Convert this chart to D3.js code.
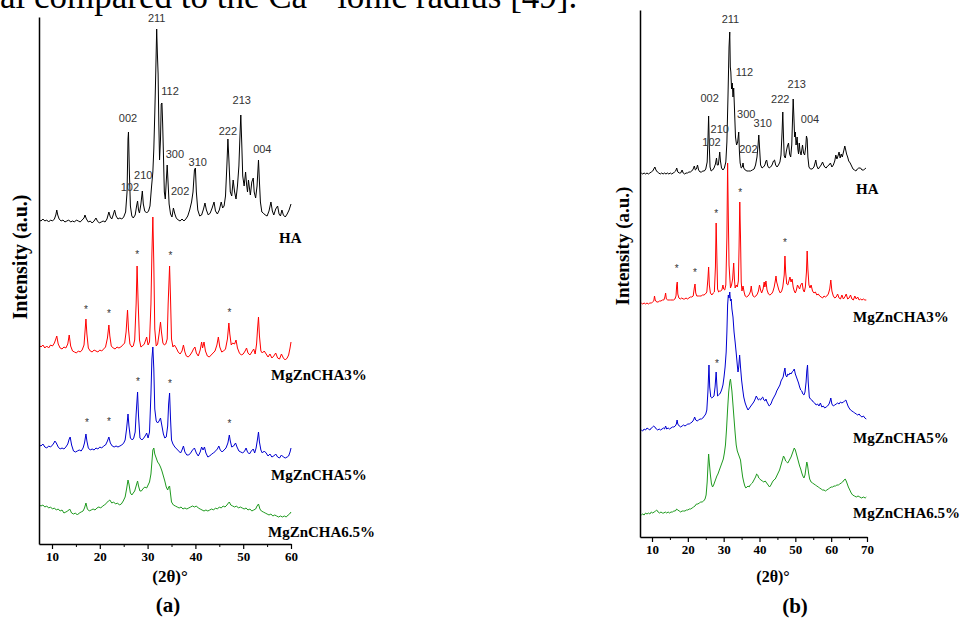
<!DOCTYPE html>
<html><head><meta charset="utf-8">
<script src="https://cdn.jsdelivr.net/npm/d3@7"></script>
<style>html,body{margin:0;padding:0;background:#fff;}svg{display:block;}</style>
</head><body><svg id="c" width="962" height="618"></svg>
<script>
// ---------- DATA (2θ in degrees, intensity in a.u., stacked) ----------
const seriesNames = ["HA", "MgZnCHA3%", "MgZnCHA5%", "MgZnCHA6.5%"];
const xTicksA = [10, 20, 30, 40, 50, 60];
const xMinorA = [15, 25, 35, 45, 55];
const xTicksB = [10, 20, 30, 40, 50, 60, 70];
const xMinorB = [15, 25, 35, 45, 55, 65];

const haA = [[7.3,324],[7.7,323],[8.1,325],[8.5,323],[8.9,324],[9.3,322],[9.7,324],[10.1,323],[10.5,325],[10.8,329],[11.0,334],[11.2,329],[11.5,325],[11.9,323],[12.3,324],[12.7,322],[13.1,323],[13.5,324],[13.9,322],[14.3,323],[14.7,322],[15.1,324],[15.5,323],[15.9,322],[16.3,324],[16.7,326],[16.9,329],[17.2,325],[17.6,322],[18.0,323],[18.4,321],[18.8,323],[19.2,326],[19.5,323],[19.9,321],[20.3,322],[20.7,323],[21.1,322],[21.5,325],[21.9,332],[22.2,327],[22.5,325],[22.8,329],[23.1,334],[23.4,328],[23.8,325],[24.2,326],[24.6,325],[25.0,327],[25.4,332],[25.7,352],[25.9,405],[26.0,412],[26.2,370],[26.4,338],[26.7,328],[27.0,326],[27.4,329],[27.7,338],[27.9,343],[28.1,334],[28.3,331],[28.6,340],[28.9,353],[29.1,340],[29.4,333],[29.8,331],[30.2,333],[30.5,338],[30.8,356],[31.1,372],[31.3,395],[31.5,430],[31.7,470],[31.9,515],[32.05,490],[32.2,470],[32.35,420],[32.5,384],[32.7,405],[32.85,440],[33.0,441],[33.15,420],[33.3,392],[33.5,352],[33.7,345],[33.9,362],[34.1,379],[34.3,360],[34.5,340],[34.8,330],[35.1,327],[35.4,336],[35.7,330],[36.0,326],[36.4,324],[36.8,323],[37.2,325],[37.6,323],[38.0,325],[38.4,328],[38.8,334],[39.2,342],[39.5,352],[39.8,374],[40.0,376],[40.2,352],[40.5,334],[40.9,328],[41.3,329],[41.7,335],[42.0,341],[42.3,334],[42.7,329],[43.1,331],[43.5,336],[43.9,342],[44.2,333],[44.6,330],[45.0,334],[45.4,342],[45.7,336],[46.0,338],[46.3,348],[46.6,380],[46.8,405],[47.0,385],[47.3,352],[47.6,348],[47.9,364],[48.2,352],[48.5,345],[48.8,358],[49.1,378],[49.3,405],[49.5,429],[49.7,400],[49.9,368],[50.2,358],[50.5,372],[50.7,360],[50.9,352],[51.1,364],[51.3,356],[51.5,349],[51.8,362],[52.1,366],[52.3,352],[52.6,346],[52.9,358],[53.2,384],[53.4,362],[53.6,342],[53.9,332],[54.2,331],[54.6,329],[55.0,328],[55.4,333],[55.8,342],[56.1,333],[56.4,329],[56.8,335],[57.2,338],[57.5,330],[57.8,328],[58.1,334],[58.4,329],[58.8,327],[59.2,330],[59.6,334],[60.0,340]];

const mg3A = [[7.3,199],[7.7,197],[8.1,199],[8.5,196],[8.9,198],[9.3,196],[9.7,199],[10.1,198],[10.5,201],[10.8,205],[11.0,208],[11.3,200],[11.7,196],[12.1,195],[12.5,197],[12.9,196],[13.3,200],[13.6,209],[13.9,198],[14.3,193],[14.7,192],[15.1,191],[15.5,193],[15.9,192],[16.3,194],[16.7,199],[16.9,212],[17.1,225],[17.3,210],[17.6,196],[18.0,193],[18.4,192],[18.8,194],[19.2,193],[19.6,192],[20.0,194],[20.4,193],[20.8,195],[21.2,197],[21.6,206],[21.9,219],[22.1,208],[22.4,198],[22.8,196],[23.2,195],[23.6,197],[24.0,196],[24.4,197],[24.8,199],[25.2,201],[25.5,212],[25.8,234],[26.0,215],[26.3,200],[26.7,197],[27.0,198],[27.3,204],[27.6,240],[27.8,278],[28.0,245],[28.3,204],[28.6,197],[28.9,198],[29.3,200],[29.6,204],[29.8,207],[30.1,199],[30.4,202],[30.7,240],[30.9,290],[31.1,327],[31.3,280],[31.5,215],[31.8,198],[32.1,200],[32.4,210],[32.7,222],[32.9,212],[33.2,201],[33.5,199],[33.8,200],[34.1,205],[34.3,240],[34.6,278],[34.8,245],[35.0,205],[35.3,197],[35.6,199],[36.0,196],[36.4,192],[36.8,190],[37.2,193],[37.5,199],[37.8,192],[38.1,188],[38.5,187],[38.9,189],[39.3,192],[39.6,195],[39.9,197],[40.2,191],[40.6,188],[41.0,194],[41.3,202],[41.5,196],[41.8,202],[42.1,193],[42.5,188],[42.9,187],[43.3,189],[43.7,191],[44.1,193],[44.5,199],[44.8,207],[45.1,197],[45.5,192],[45.9,193],[46.3,195],[46.7,205],[47.0,221],[47.2,210],[47.5,199],[47.8,201],[48.2,200],[48.5,204],[48.8,196],[49.2,191],[49.6,189],[50.0,190],[50.4,193],[50.7,196],[51.0,191],[51.4,189],[51.8,192],[52.2,195],[52.5,190],[52.8,200],[53.0,215],[53.2,227],[53.4,208],[53.7,193],[54.0,191],[54.4,193],[54.8,190],[55.2,187],[55.6,190],[56.0,186],[56.4,188],[56.8,191],[57.2,186],[57.6,185],[58.0,190],[58.4,186],[58.8,184],[59.2,186],[59.5,189],[59.8,196],[60.0,202]];

const mg5A = [[7.3,99],[7.7,98],[8.1,100],[8.5,97],[8.9,96],[9.3,98],[9.7,97],[10.1,99],[10.4,101],[10.6,103],[10.9,101],[11.3,97],[11.7,95],[12.1,96],[12.5,95],[12.9,97],[13.3,100],[13.6,105],[13.8,107],[14.1,99],[14.5,93],[14.9,92],[15.3,93],[15.7,94],[16.1,93],[16.5,96],[16.8,101],[17.1,110],[17.3,103],[17.6,96],[18.0,94],[18.4,95],[18.8,94],[19.2,96],[19.6,95],[20.0,97],[20.4,96],[20.8,98],[21.2,99],[21.6,103],[21.9,107],[22.2,101],[22.6,98],[23.0,97],[23.4,98],[23.8,97],[24.2,98],[24.6,99],[25.0,101],[25.3,104],[25.6,115],[25.9,130],[26.1,118],[26.4,106],[26.8,104],[27.1,106],[27.4,112],[27.6,130],[27.9,152],[28.1,128],[28.4,106],[28.8,104],[29.2,106],[29.6,109],[29.8,111],[30.1,106],[30.4,112],[30.7,150],[30.9,185],[31.1,197],[31.3,175],[31.5,135],[31.8,123],[32.1,121],[32.4,123],[32.7,126],[33.0,118],[33.3,110],[33.6,106],[33.9,107],[34.2,118],[34.4,140],[34.6,151],[34.8,125],[35.0,104],[35.3,100],[35.7,97],[36.1,95],[36.5,93],[36.9,91],[37.2,94],[37.5,98],[37.8,92],[38.2,89],[38.6,89],[39.0,91],[39.4,94],[39.8,96],[40.2,91],[40.6,88],[41.0,92],[41.3,97],[41.6,94],[41.9,97],[42.2,91],[42.6,87],[43.0,88],[43.4,90],[43.8,91],[44.2,93],[44.6,95],[44.9,98],[45.2,94],[45.6,92],[46.0,94],[46.4,96],[46.8,101],[47.1,109],[47.3,103],[47.6,97],[48.0,98],[48.4,101],[48.7,97],[49.1,93],[49.5,92],[49.9,91],[50.3,93],[50.6,96],[50.9,92],[51.3,90],[51.7,93],[52.1,95],[52.4,91],[52.7,96],[53.0,105],[53.2,112],[53.4,102],[53.7,94],[54.0,91],[54.4,93],[54.8,91],[55.2,88],[55.6,90],[56.0,87],[56.4,88],[56.8,90],[57.2,87],[57.6,86],[58.0,89],[58.4,87],[58.8,86],[59.2,87],[59.5,88],[59.8,92],[60.0,96]];

const mg65A = [[7.3,39],[7.7,38],[8.1,39],[8.5,37],[8.9,38],[9.3,36],[9.7,37],[10.1,35],[10.5,36],[10.9,34],[11.3,35],[11.7,33],[12.1,34],[12.5,31],[12.9,32],[13.3,33],[13.7,35],[14.1,31],[14.5,30],[14.9,31],[15.3,29],[15.7,31],[16.1,32],[16.5,33],[16.8,36],[17.1,41],[17.4,35],[17.8,33],[18.2,34],[18.6,35],[19.0,34],[19.4,36],[19.8,37],[20.2,36],[20.6,38],[21.0,39],[21.4,41],[21.8,43],[22.1,44],[22.5,41],[22.9,42],[23.3,40],[23.7,41],[24.1,39],[24.5,40],[24.9,43],[25.3,47],[25.6,55],[25.9,64],[26.1,60],[26.4,51],[26.7,49],[27.0,51],[27.3,53],[27.6,58],[27.9,63],[28.1,58],[28.4,53],[28.7,53],[29.0,55],[29.4,57],[29.8,56],[30.1,59],[30.4,62],[30.7,70],[30.9,82],[31.1,94],[31.3,96],[31.5,90],[31.8,86],[32.1,82],[32.4,80],[32.7,77],[33.0,73],[33.3,68],[33.6,63],[33.9,57],[34.2,54],[34.4,57],[34.6,58],[34.8,50],[35.0,42],[35.4,39],[35.8,38],[36.2,37],[36.6,36],[37.0,37],[37.4,35],[37.8,36],[38.2,35],[38.6,36],[39.0,37],[39.4,38],[39.8,37],[40.2,38],[40.6,36],[41.0,35],[41.4,34],[41.8,33],[42.2,34],[42.6,33],[43.0,34],[43.4,35],[43.8,34],[44.2,36],[44.6,35],[45.0,37],[45.4,36],[45.8,38],[46.2,37],[46.6,39],[46.9,41],[47.1,42],[47.4,39],[47.8,38],[48.2,37],[48.6,38],[49.0,36],[49.4,37],[49.8,36],[50.2,35],[50.6,36],[51.0,34],[51.4,35],[51.8,33],[52.2,34],[52.6,35],[52.9,38],[53.2,40],[53.5,35],[53.8,33],[54.2,32],[54.6,31],[55.0,30],[55.4,29],[55.8,30],[56.2,28],[56.6,29],[57.0,28],[57.4,27],[57.8,28],[58.2,27],[58.6,28],[59.0,27],[59.4,29],[59.7,30],[60.0,32]];

const haB = [[7.0,364],[7.4,363],[7.8,364],[8.2,363],[8.6,364],[9.0,363],[9.4,364],[9.8,365],[10.2,366],[10.5,368],[10.8,370],[11.1,367],[11.5,365],[11.9,364],[12.3,363],[12.7,364],[13.1,363],[13.5,364],[13.9,363],[14.3,364],[14.7,363],[15.1,364],[15.5,363],[15.9,364],[16.3,365],[16.6,366],[16.9,369],[17.2,365],[17.6,364],[18.0,364],[18.4,367],[18.7,364],[19.1,363],[19.5,364],[19.9,364],[20.3,365],[20.7,365],[21.1,366],[21.5,368],[21.8,371],[22.1,367],[22.4,368],[22.7,372],[23.0,367],[23.4,365],[23.8,365],[24.2,366],[24.6,366],[25.0,368],[25.4,375],[25.6,395],[25.8,421],[26.0,390],[26.2,370],[26.5,366],[26.9,367],[27.3,369],[27.7,373],[28.0,379],[28.2,372],[28.5,372],[28.7,378],[28.9,385],[29.1,376],[29.4,369],[29.8,367],[30.2,369],[30.6,375],[30.9,395],[31.2,440],[31.5,490],[31.7,505],[31.85,470],[32.0,465],[32.2,448],[32.4,454],[32.6,440],[32.8,449],[33.0,430],[33.3,400],[33.6,392],[33.9,395],[34.2,405],[34.4,385],[34.6,374],[34.9,369],[35.2,370],[35.4,374],[35.6,369],[36.0,367],[36.5,366],[37.0,366],[37.5,366],[38.0,367],[38.5,368],[38.9,372],[39.3,380],[39.6,392],[39.8,402],[40.0,390],[40.3,372],[40.7,369],[41.1,370],[41.5,372],[41.8,376],[42.0,377],[42.3,371],[42.7,369],[43.1,370],[43.5,372],[43.9,376],[44.2,377],[44.5,372],[44.9,370],[45.3,372],[45.7,375],[46.0,382],[46.3,405],[46.5,425],[46.7,400],[46.9,381],[47.2,379],[47.5,386],[47.8,391],[48.1,394],[48.4,383],[48.7,380],[49.0,392],[49.2,415],[49.4,438],[49.6,420],[49.8,400],[50.0,405],[50.2,392],[50.5,400],[50.7,388],[50.9,383],[51.1,394],[51.3,386],[51.6,382],[52.0,392],[52.3,384],[52.6,382],[52.9,390],[53.1,401],[53.3,398],[53.5,380],[53.8,370],[54.2,368],[54.7,368],[55.2,370],[55.5,374],[55.7,377],[56.0,371],[56.4,368],[56.8,370],[57.2,372],[57.6,375],[57.9,372],[58.2,370],[58.6,369],[59.0,371],[59.4,372],[59.8,374],[60.2,370],[60.6,372],[61.0,376],[61.3,382],[61.6,378],[61.9,381],[62.2,385],[62.5,379],[62.8,383],[63.1,380],[63.5,386],[63.8,391],[64.0,388],[64.3,383],[64.6,380],[64.9,376],[65.3,374],[65.7,371],[66.1,368],[66.5,367],[66.9,366],[67.3,368],[67.7,369],[68.2,369],[68.6,367],[69.0,367],[69.4,368],[69.7,369]];

const mg3B = [[7.0,234],[7.4,233],[7.8,234],[8.2,233],[8.6,234],[9.0,233],[9.4,234],[9.8,234],[10.2,235],[10.5,236],[10.7,241],[10.9,237],[11.3,235],[11.7,235],[12.1,236],[12.5,236],[12.9,237],[13.3,237],[13.6,240],[13.8,244],[14.0,238],[14.4,237],[14.8,237],[15.2,237],[15.6,237],[16.0,237],[16.4,238],[16.7,241],[16.9,252],[17.05,255],[17.2,243],[17.5,239],[17.9,238],[18.3,239],[18.7,238],[19.1,238],[19.5,239],[19.9,238],[20.3,239],[20.7,240],[21.1,240],[21.5,241],[21.8,249],[22.0,253],[22.2,244],[22.5,241],[22.9,241],[23.3,241],[23.7,241],[24.1,242],[24.5,242],[24.9,243],[25.3,245],[25.6,258],[25.8,270],[26.0,252],[26.3,244],[26.7,242],[27.1,244],[27.4,245],[27.7,270],[27.9,314],[28.1,280],[28.3,248],[28.6,245],[28.9,246],[29.2,246],[29.5,247],[29.8,252],[30.0,248],[30.3,247],[30.6,252],[30.9,300],[31.1,374],[31.3,320],[31.5,272],[31.7,260],[31.9,249],[32.2,252],[32.5,258],[32.8,274],[33.0,258],[33.2,249],[33.5,252],[33.8,250],[34.1,256],[34.3,290],[34.5,335],[34.7,300],[34.9,255],[35.1,246],[35.4,251],[35.7,245],[36.0,241],[36.4,240],[36.8,241],[37.2,243],[37.5,246],[37.7,251],[37.9,245],[38.2,241],[38.6,240],[39.0,241],[39.4,243],[39.7,246],[40.0,252],[40.3,247],[40.6,244],[41.0,248],[41.3,255],[41.5,250],[41.8,256],[42.1,247],[42.5,243],[42.9,242],[43.3,243],[43.7,245],[44.1,250],[44.4,256],[44.6,261],[44.8,255],[45.1,251],[45.4,247],[45.8,244],[46.2,246],[46.5,250],[46.9,262],[47.1,281],[47.3,265],[47.6,253],[47.9,252],[48.2,256],[48.5,260],[48.8,255],[49.1,258],[49.4,250],[49.7,246],[50.0,244],[50.3,247],[50.6,252],[50.9,250],[51.2,248],[51.5,252],[51.9,254],[52.2,247],[52.5,245],[52.8,250],[53.1,265],[53.3,286],[53.5,268],[53.8,252],[54.1,249],[54.4,252],[54.8,246],[55.2,244],[55.6,245],[56.0,242],[56.4,243],[56.8,241],[57.2,240],[57.6,239],[58.0,241],[58.4,240],[58.8,241],[59.2,243],[59.6,248],[59.9,257],[60.2,246],[60.6,241],[61.0,239],[61.4,240],[61.8,243],[62.2,239],[62.6,238],[63.0,242],[63.4,238],[63.8,240],[64.2,243],[64.6,238],[65.0,239],[65.4,242],[65.8,238],[66.2,237],[66.6,241],[67.0,238],[67.4,240],[67.8,237],[68.2,238],[68.6,237],[69.0,238],[69.4,237],[69.8,237]];

const mg5B = [[7.0,107],[7.4,106],[7.8,108],[8.2,107],[8.6,109],[9.0,108],[9.4,107],[9.8,109],[10.2,110],[10.5,111],[10.8,110],[11.2,108],[11.6,107],[12.0,108],[12.4,107],[12.8,108],[13.2,109],[13.5,108],[13.8,111],[14.1,108],[14.5,109],[14.9,108],[15.3,109],[15.7,110],[16.1,110],[16.5,111],[16.8,113],[17.0,117],[17.2,113],[17.6,111],[18.0,110],[18.4,111],[18.8,112],[19.2,111],[19.6,112],[20.0,113],[20.4,113],[20.8,114],[21.2,115],[21.6,117],[21.9,120],[22.2,117],[22.6,116],[23.0,117],[23.4,118],[23.8,118],[24.2,119],[24.6,121],[25.0,123],[25.3,127],[25.6,145],[25.9,172],[26.1,150],[26.4,140],[26.7,139],[27.0,140],[27.3,141],[27.6,150],[27.9,165],[28.1,152],[28.3,141],[28.6,142],[28.9,143],[29.2,145],[29.5,148],[29.8,152],[30.1,160],[30.4,170],[30.7,185],[30.9,205],[31.1,232],[31.3,242],[31.5,239],[31.7,245],[31.9,236],[32.1,238],[32.3,228],[32.6,220],[32.9,205],[33.2,195],[33.5,184],[33.8,172],[34.0,165],[34.2,170],[34.45,182],[34.7,170],[35.0,157],[35.3,148],[35.6,140],[36.0,134],[36.4,130],[36.8,127],[37.2,129],[37.6,131],[38.0,133],[38.4,135],[38.8,138],[39.1,141],[39.4,139],[39.7,137],[40.0,138],[40.3,137],[40.6,139],[40.9,140],[41.2,137],[41.5,136],[41.8,138],[42.1,135],[42.4,133],[42.7,131],[43.0,132],[43.3,134],[43.6,137],[43.9,139],[44.2,141],[44.5,143],[44.8,146],[45.1,148],[45.4,150],[45.7,152],[46.0,156],[46.3,158],[46.6,160],[46.8,164],[47.1,169],[47.3,162],[47.6,160],[47.9,163],[48.2,162],[48.5,164],[48.8,163],[49.1,165],[49.4,166],[49.7,168],[50.0,163],[50.3,160],[50.6,157],[50.9,154],[51.2,150],[51.5,147],[51.8,146],[52.1,143],[52.4,142],[52.7,145],[53.0,155],[53.2,166],[53.4,172],[53.6,155],[53.9,140],[54.2,138],[54.6,137],[55.0,135],[55.4,134],[55.8,132],[56.2,133],[56.6,131],[57.0,134],[57.4,130],[57.8,131],[58.2,129],[58.6,130],[59.0,131],[59.4,133],[59.7,136],[59.9,139],[60.2,133],[60.6,131],[61.0,132],[61.4,133],[61.8,134],[62.2,133],[62.6,135],[63.0,134],[63.4,135],[63.8,136],[64.1,137],[64.4,134],[64.7,131],[65.0,129],[65.4,127],[65.8,126],[66.2,125],[66.6,124],[67.0,123],[67.4,122],[67.8,123],[68.2,121],[68.6,120],[69.0,121],[69.4,119],[69.8,118]];

const mg65B = [[7.0,22],[7.4,23],[7.8,22],[8.2,24],[8.6,23],[9.0,24],[9.4,23],[9.8,25],[10.2,24],[10.6,25],[11.0,26],[11.3,27],[11.7,25],[12.1,24],[12.5,25],[12.9,24],[13.3,24],[13.7,25],[14.1,24],[14.5,25],[14.9,24],[15.3,25],[15.7,25],[16.1,26],[16.5,26],[16.9,28],[17.2,27],[17.6,26],[18.0,25],[18.4,26],[18.8,26],[19.2,26],[19.6,27],[20.0,27],[20.4,28],[20.8,28],[21.2,29],[21.6,30],[22.0,31],[22.4,33],[22.8,33],[23.2,34],[23.6,35],[24.0,35],[24.4,36],[24.8,38],[25.1,42],[25.4,55],[25.6,70],[25.8,83],[26.0,74],[26.3,62],[26.6,53],[26.9,50],[27.2,52],[27.5,55],[27.8,58],[28.1,61],[28.4,63],[28.7,66],[29.0,69],[29.3,72],[29.6,75],[29.9,78],[30.2,84],[30.5,92],[30.8,108],[31.1,128],[31.4,145],[31.7,155],[31.9,158],[32.1,152],[32.3,146],[32.6,132],[32.9,118],[33.2,104],[33.5,92],[33.8,86],[34.1,83],[34.4,80],[34.7,77],[35.0,68],[35.3,60],[35.6,55],[35.9,51],[36.2,49],[36.5,50],[36.8,51],[37.1,50],[37.4,52],[37.7,53],[38.0,54],[38.3,56],[38.6,58],[38.9,60],[39.2,63],[39.5,62],[39.8,59],[40.1,58],[40.4,57],[40.8,56],[41.2,55],[41.6,56],[42.0,54],[42.4,52],[42.8,50],[43.2,52],[43.6,55],[44.0,57],[44.4,58],[44.8,61],[45.2,64],[45.6,67],[46.0,72],[46.4,77],[46.7,81],[47.0,79],[47.3,76],[47.6,75],[47.9,74],[48.2,76],[48.5,78],[48.8,80],[49.1,83],[49.4,86],[49.7,89],[50.0,87],[50.3,83],[50.6,79],[50.9,75],[51.2,71],[51.5,68],[51.8,64],[52.1,61],[52.4,59],[52.7,62],[53.0,70],[53.2,75],[53.4,72],[53.7,64],[54.0,58],[54.4,55],[54.8,54],[55.2,53],[55.6,52],[56.0,51],[56.4,50],[56.8,49],[57.2,48],[57.6,47],[58.0,47],[58.4,46],[58.8,47],[59.2,48],[59.6,49],[60.0,50],[60.4,50],[60.8,51],[61.2,51],[61.6,52],[62.0,52],[62.4,53],[62.8,54],[63.2,55],[63.6,57],[63.9,58],[64.2,56],[64.5,53],[64.8,50],[65.2,47],[65.6,44],[66.0,42],[66.5,41],[67.0,40],[67.5,41],[68.0,40],[68.5,39],[69.0,40],[69.5,39],[69.8,40]];

// Miller-index annotations [label, 2θ, intensity]
const hklA = [["211",31.9,522],["002",25.9,422],["112",34.7,449],["213",49.7,440],["222",46.8,409],["300",35.7,386],["310",40.5,378],["004",54.0,391],["210",29.1,365],["102",26.3,353],["202",36.8,349]];
const hklB = [["211",31.9,514],["002",26.1,435],["112",35.8,461],["213",50.4,449],["222",45.8,434],["300",36.3,419],["310",40.9,410],["004",54.1,414],["210",28.9,404],["102",26.6,391],["202",36.9,384]];
// secondary-phase markers [2θ, intensity]
const starsA = [[17.1,236],[21.9,232],[27.8,291],[34.8,290],[47.1,233],[17.3,123],[21.9,124],[28.0,164],[34.7,162],[47.1,122]];
const starsB = [[16.9,270],[22.0,266],[27.9,325],[34.6,346],[47.1,296],[28.1,175]];

// ---------- LAYOUT ----------
const colors = ["#000000", "#ff0000", "#0000d0", "#1f9a1f"];
const serif = "'Liberation Serif','Times New Roman',serif";
const sans = "'Liberation Sans',Arial,sans-serif";
const svg = d3.select("#c");

const panels = [
  { series: [haA, mg3A, mg5A, mg65A], hkl: hklA, stars: starsA, ticks: xTicksA, minor: xMinorA,
    xDomain: [7.28, 60], xRange: [39, 291], yTop: 17, yBot: 544,
    labelPos: [[279,243],[271,380],[271,480],[268,537]], labelSize: 15,
    ytitle: [27, 257, 20], xtitle: [170, 582, 17], tag: ["(a)", 168, 612] },
  { series: [haB, mg3B, mg5B, mg65B], hkl: hklB, stars: starsB, ticks: xTicksB, minor: xMinorB,
    xDomain: [6.65, 70], xRange: [640, 867], yTop: 10, yBot: 537,
    labelPos: [[856,194],[853,322],[853,443],[853,518]], labelSize: 15,
    ytitle: [629, 246, 19], xtitle: [773, 582, 16], tag: ["(b)", 795, 613] }
];

// clipped top text line from the surrounding document
const headLine = svg.append("text").attr("x", 0).attr("y", 8)
  .attr("font-family", serif).attr("font-size", 35).attr("fill", "#000");
headLine.append("tspan").text("al compared to the Ca");
headLine.append("tspan").attr("baseline-shift", "super").attr("font-size", 20).text("2+");
headLine.append("tspan").text(" ionic radius [49].");

panels.forEach(p => {
  const x = d3.scaleLinear().domain(p.xDomain).range(p.xRange);
  const y = d3.scaleLinear().domain([0, 527]).range([p.yBot, p.yTop]);
  const g = svg.append("g");

  const line = d3.line().x(d => x(d[0])).y(d => y(d[1]));
  p.series.forEach((s, i) => {
    g.append("path").datum(s).attr("d", line)
      .attr("fill", "none").attr("stroke", colors[i]).attr("stroke-width", 1)
      .attr("stroke-linejoin", "round");
  });

  // x axis
  const ax = g.append("g").attr("transform", `translate(0,${p.yBot})`)
    .call(d3.axisBottom(x).tickValues(p.ticks).tickSize(5).tickSizeOuter(0).tickFormat(d3.format("d")));
  ax.select(".domain").attr("stroke-width", 1.5);
  ax.selectAll(".tick line").attr("stroke-width", 1.2);
  ax.selectAll(".tick text").attr("font-family", serif).attr("font-weight", "bold")
    .attr("font-size", 13).attr("dy", "0.85em").attr("y", 6);
  const mx = g.append("g").attr("transform", `translate(0,${p.yBot})`)
    .call(d3.axisBottom(x).tickValues(p.minor).tickSize(3).tickSizeOuter(0).tickFormat(""));
  mx.select(".domain").remove();

  // y axis (line only)
  const ay = g.append("g").attr("transform", `translate(${p.xRange[0]},0)`)
    .call(d3.axisLeft(y).tickValues([]).tickSizeOuter(0));
  ay.select(".domain").attr("stroke-width", 1.5);

  // hkl labels
  g.selectAll(".hkl").data(p.hkl).enter().append("text")
    .attr("x", d => x(d[1])).attr("y", d => y(d[2]))
    .attr("text-anchor", "middle").attr("font-family", sans).attr("font-size", 11)
    .attr("fill", "#333").text(d => d[0]);

  // asterisks
  g.selectAll(".star").data(p.stars).enter().append("text")
    .attr("x", d => x(d[0])).attr("y", d => y(d[1]) + 5)
    .attr("text-anchor", "middle").attr("font-family", sans).attr("font-size", 10)
    .attr("fill", "#333").text("*");

  // series labels
  seriesNames.forEach((n, i) => {
    g.append("text").attr("x", p.labelPos[i][0]).attr("y", p.labelPos[i][1])
      .attr("font-family", serif).attr("font-weight", "bold").attr("font-size", p.labelSize)
      .attr("fill", "#000").text(n);
  });

  // axis titles
  g.append("text").attr("transform", `translate(${p.ytitle[0]},${p.ytitle[1]}) rotate(-90)`)
    .attr("text-anchor", "middle").attr("font-family", serif).attr("font-weight", "bold")
    .attr("font-size", p.ytitle[2]).text("Intensity (a.u.)");
  g.append("text").attr("x", p.xtitle[0]).attr("y", p.xtitle[1])
    .attr("text-anchor", "middle").attr("font-family", serif).attr("font-weight", "bold")
    .attr("font-size", p.xtitle[2]).text("(2θ)°");
  g.append("text").attr("x", p.tag[1]).attr("y", p.tag[2])
    .attr("text-anchor", "middle").attr("font-family", serif).attr("font-weight", "bold")
    .attr("font-size", 21).text(p.tag[0]);
});
</script></body></html>
